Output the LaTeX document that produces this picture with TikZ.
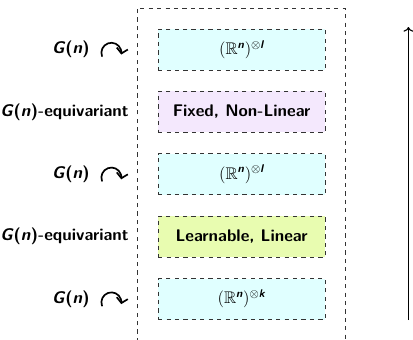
\documentclass[tikz,border=0pt]{standalone}
\usepackage{amsmath, amssymb}
\usepackage{tikz}
\usetikzlibrary{positioning, arrows.meta}

\definecolor{tensorfill}{RGB}{224,255,255}
\definecolor{fixedfill}{RGB}{244,232,253}
\definecolor{learnfill}{RGB}{232,252,176}

\begin{document}
\begin{tikzpicture}[>=To, node distance=1.56cm, on grid, font=\fontsize{12}{14}\selectfont\sffamily\bfseries]
    % Styles
    \tikzstyle{layer}=[draw=black!80, dashed, minimum width=4.175cm, minimum height=1.025cm]
    \tikzstyle{tensor}=[layer, fill=tensorfill]
    \tikzstyle{action}=[anchor=east, inner xsep=0pt]
    \tikzstyle{curly}=[very thick, line cap=round, -{Straight Barb[length=3.5pt,width=8pt]}]

    \useasboundingbox (0,0) rectangle (10.325,8.475);

    % Outer frame (open at the bottom)
    \begin{scope}
        \clip (0,0) rectangle (10.325,8.475);
        \draw[dashed, black!80] (3.425,-0.5) -- (3.425,8.275) -- (8.625,8.275) -- (8.625,-0.5);
    \end{scope}

    % Layers (bottom to top)
    \node[tensor] (in) at (6.04,1.0) {$(\mathbb{R}^{\textit{n}})^{\otimes \textit{k}}$};
    \node[layer, fill=learnfill] (lin) [above=of in] {Learnable, Linear};
    \node[tensor] (mid) [above=of lin] {$(\mathbb{R}^{\textit{n}})^{\otimes \textit{l}}$};
    \node[layer, fill=fixedfill] (nonlin) [above=of mid] {Fixed, Non-Linear};
    \node[tensor] (out) [above=of nonlin] {$(\mathbb{R}^{\textit{n}})^{\otimes \textit{l}}$};

    % Labels on the left
    \foreach \n in {in, mid, out} {
        \node[action] (g\n) at ([xshift=-3.79cm]\n.center) {\textit{G}(\textit{n})};
        \draw[curly] ([xshift=0.3cm, yshift=-0.17cm]g\n.east) arc[start angle=200, end angle=-10, radius=0.25cm];
    }
    \foreach \n in {lin, nonlin}
        \node[action] (e\n) at ([xshift=-2.815cm]\n.center) {\textit{G}(\textit{n})-equivariant};

    % Direction
    \coordinate (bot) at (10.21,0.475);
    \coordinate (top) at (10.21,7.8);
    \draw[->, thick] (bot) -- (top);

\end{tikzpicture}
\end{document}
